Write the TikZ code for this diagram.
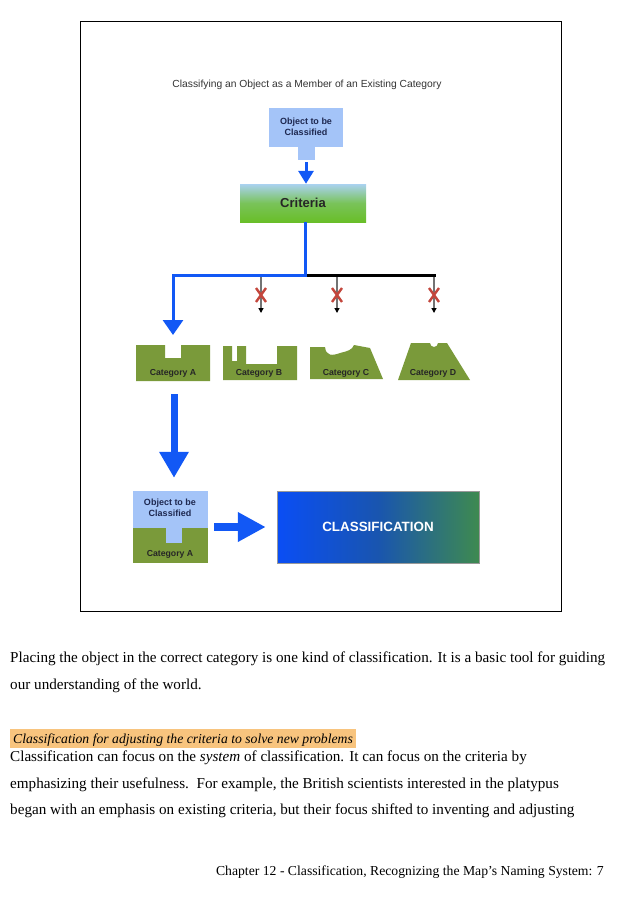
\documentclass[tikz,border=0pt]{standalone}
\usepackage{fontspec}
\setmainfont{Liberation Serif}
\setsansfont{Liberation Sans}
\usetikzlibrary{arrows.meta}
\definecolor{objblue}{RGB}{164,196,248}
\definecolor{arrowblue}{RGB}{18,88,245}
\definecolor{catgreen}{RGB}{122,154,58}
\definecolor{navytext}{RGB}{30,40,80}
\definecolor{critblue}{RGB}{170,210,240}
\definecolor{critgreen}{RGB}{105,190,40}
\definecolor{clsblue}{RGB}{10,78,245}
\definecolor{clsmid}{RGB}{25,85,175}
\definecolor{clsgreen}{RGB}{62,138,80}
\definecolor{xred}{RGB}{195,70,60}
\definecolor{hlorange}{RGB}{248,196,126}
\begin{document}
\begin{tikzpicture}[x=1pt, y=-1pt,
		objtext/.style={text=navytext, font=\sffamily\bfseries\fontsize{9}{10.5}\selectfont, align=center, inner sep=0pt},
		catlabel/.style={text=black!85, font=\sffamily\bfseries\fontsize{8.7}{10}\selectfont, inner sep=0pt},
		noarrow/.style={draw=black!55, line width=2pt, -{Triangle[width=5pt,length=5pt,color=black]}},
		crossout/.style={draw=xred, line width=2.4pt},
		bodytext/.style={anchor=base west, font=\fontsize{15.15}{18}\selectfont, inner sep=0pt}]
		\useasboundingbox (0,0) rectangle (623,899);
		\draw[line width=1pt] (80,22) rectangle (561,611);
		\node[text=black!80, font=\sffamily\fontsize{10.3}{12}\selectfont] (title) at (307,85) {Classifying an Object as a Member of an Existing Category};
		% object and criteria
		\node[objtext, fill=objblue, minimum width=74pt, minimum height=39pt] (obj) at (306,127) {Object to be\\Classified};
		\node[fill=objblue, minimum width=17pt, minimum height=13pt, inner sep=0pt, anchor=north] (objtab) at (obj.south) {};
		\node[minimum width=126pt, minimum height=38pt, top color=critblue, bottom color=critgreen, middle color=critgreen!75!critblue, text=black!85, font=\sffamily\bfseries\fontsize{13}{15}\selectfont] (crit) at (303,203) {Criteria};
		\draw[draw=arrowblue, line width=3pt, -{Triangle[width=15pt,length=13pt]}] ([yshift=-2pt]objtab.south) -- (crit.north -| objtab.south);
		% branches
		\coordinate (split) at (305,275);
		\coordinate (turnA) at (173,275);
		\coordinate (intoA) at (173,335);
		\coordinate (endD) at (436,275);
		\draw[black, line width=3pt] (split) -- (endD);
		\draw[arrowblue, line width=3pt, line join=miter, -{Triangle[width=20pt,length=15pt]}] (crit.south -| split) -- (split) -- (turnA) -- (intoA);
		\coordinate (dropB) at (261,277);
		\coordinate (dropC) at (337,277);
		\coordinate (dropD) at (434,277);
		\draw[noarrow] (dropB) -- ++(0,36);
		\draw[noarrow] (dropC) -- ++(0,36);
		\draw[noarrow] (dropD) -- ++(0,36);
		\draw[crossout] (256,288) -- (266,302) (266,288) -- (256,302);
		\draw[crossout] (332,288) -- (342,302) (342,288) -- (332,302);
		\draw[crossout] (429,288) -- (439,302) (439,288) -- (429,302);
		% categories
		\fill[catgreen] (136,345) -- (165,345) -- (165,358) -- (181,358) -- (181,345) -- (210,345) -- (210,381) -- (136,381) -- cycle;
		\fill[catgreen] (223,346) -- (232,346) -- (232,361) -- (237,361) -- (237,346) -- (246,346) -- (246,364) -- (277,364) -- (277,346) -- (297,346) -- (297,380) -- (223,380) -- cycle;
		\fill[catgreen] (310,347) -- (325,347) .. controls (326,356) and (332,356) .. (340,353) .. controls (348,351) and (352,350) .. (354,345) -- (370,348) -- (383,379) -- (310,379) -- cycle;
		\fill[catgreen] (398,380) -- (411,343) -- (430,343) arc (180:0:4) -- (447,343) -- (470,380) -- cycle;
		\node[catlabel] (catA) at (173,373) {Category A};
		\node[catlabel] (catB) at (259,373) {Category B};
		\node[catlabel] (catC) at (346,373) {Category C};
		\node[catlabel] (catD) at (433,373) {Category D};
		% result
		\node[minimum width=75pt, minimum height=72pt, inner sep=0pt] (combo) at (170.5,527) {};
		\fill[objblue] (133,491) rectangle (208,528);
		\fill[catgreen] (133,528) rectangle (208,563);
		\fill[objblue] (166,528) rectangle (182,543);
		\node[objtext] (combotext) at (170,508) {Object to be\\Classified};
		\node[catlabel] (combocat) at (170,554) {Category A};
		\coordinate (belowA) at (174,394);
		\draw[arrowblue, line width=7pt, shorten >=13pt, -{Triangle[width=28pt,length=26pt]}] (belowA) -- (belowA |- combo.north);
		\node[minimum width=202pt, minimum height=72pt, left color=clsblue, right color=clsgreen, middle color=clsmid, draw=black!40, line width=0.5pt, text=white, font=\sffamily\bfseries\fontsize{13.4}{15}\selectfont] (cls) at (378,527) {CLASSIFICATION};
		\draw[arrowblue, line width=8pt, -{Triangle[width=28pt,length=28pt]}] ([xshift=6pt]combo.east) -- ([xshift=-11pt]cls.west);
		% page text
		\node[bodytext] (para1) at (10,662) {Placing the object in the correct category is one kind of classification. It is a basic tool for guiding};
		\node[bodytext] (para2) at (10,689) {our understanding of the world.};
		\node[bodytext, fill=hlorange, inner xsep=3pt, inner ysep=2pt, text height=12pt, text depth=3pt, font=\itshape\fontsize{13.7}{16}\selectfont] (heading) at (10,743) {Classification for adjusting the criteria to solve new problems};
		\node[bodytext] (para3) at (10,761) {Classification can focus on the \textit{system} of classification. It can focus on the criteria by};
		\node[bodytext] (para4) at (10,788) {emphasizing their usefulness.\ \ For example, the British scientists interested in the platypus};
		\node[bodytext] (para5) at (10,814) {began with an emphasis on existing criteria, but their focus shifted to inventing and adjusting};
		\node[bodytext, anchor=base east, font=\fontsize{13.7}{16}\selectfont] (footer) at (604,875) {Chapter 12 - Classification, Recognizing the Map's Naming System: 7};
	\end{tikzpicture}
\end{document}
